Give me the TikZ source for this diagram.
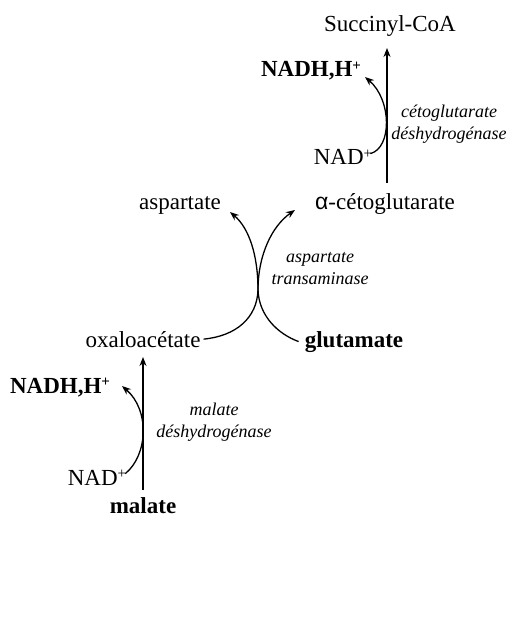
\documentclass[tikz,border=0pt]{standalone}
\usepackage{fontspec}
\setmainfont{Liberation Serif}
\newfontfamily\alphafont{Liberation Sans}
\usetikzlibrary{arrows.meta}
\newcommand\plussup{\raisebox{0.62ex}{\fontsize{15}{15}\selectfont +}}
\tikzset{
  lbl/.style={inner sep=0pt, anchor=base, font=\fontsize{23}{26}\selectfont},
  blbl/.style={lbl, font=\fontsize{23}{26}\selectfont\bfseries},
  enz/.style={inner sep=0pt, align=center, font=\fontsize{18}{22}\selectfont\itshape},
  rx/.style={line width=1.3pt, -{Stealth[length=9pt,width=7pt]}},
}
\begin{document}
\begin{tikzpicture}[x=1pt,y=-1pt]
\useasboundingbox (0,0) rectangle (512,617);
% top step
\node[lbl] (succ) at (390,32) {Succinyl-CoA};
\node[blbl] (nadh1) at (311,77) {NADH,H\plussup};
\node[lbl] (nad1) at (343,165) {NAD\plussup};
\node[enz] (enz1) at (449,124) {cétoglutarate\\déshydrogénase};
% middle
\node[lbl] (akg) at (385,210) {{\alphafont α}-cétoglutarate};
\node[lbl] (asp) at (180,210) {aspartate};
\node[enz] (enz2) at (320,269) {aspartate\\transaminase};
\node[lbl] (oxa) at (143,347) {oxaloacétate};
\node[blbl] (glu) at (354,347) {glutamate};
% bottom step
\node[blbl] (nadh2) at (60,393) {NADH,H\plussup};
\node[lbl] (nad2) at (97,485) {NAD\plussup};
\node[enz] (enz3) at (214,422) {malate\\déshydrogénase};
\node[blbl] (mal) at (143,513) {malate};
% main arrows
\draw[rx] (387,183) -- (387,48);
\draw[rx] (143,490) -- (143,357);
% cofactor curves
\draw[rx] (nad1.north east) ++(-2,4) .. controls (392,148) and (392,100) .. (365,77);
\draw[rx] (nad2.north east) ++(-1,4) .. controls (148,455) and (150,410) .. (122,386);
% transamination
\draw[rx] (oxa.east) ++(3,0) .. controls (236,336) and (257,318) .. (258,290) .. controls (258,255) and (249,228) .. (230,212);
\draw[rx] (glu.west) ++(-6,0) .. controls (278,334) and (259,316) .. (258,290) .. controls (258,255) and (272,226) .. (295,210);
\end{tikzpicture}
\end{document}
